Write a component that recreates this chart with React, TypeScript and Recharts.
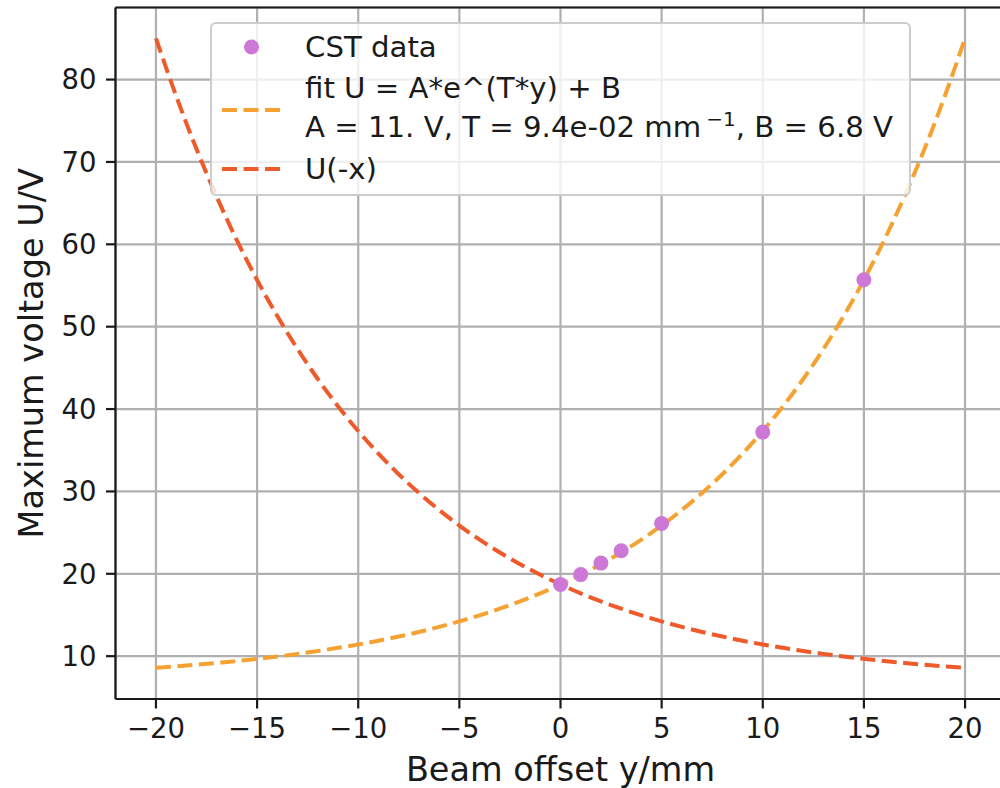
import React from "react";
import {
  ComposedChart,
  Line,
  Scatter,
  XAxis,
  YAxis,
  CartesianGrid,
  ReferenceLine,
  Legend,
  Label,
} from "recharts";

// ---- data ----
const offsets = [
  -20, -19, -18, -17, -16, -15, -14, -13, -12, -11, -10, -9, -8, -7, -6, -5, -4, -3, -2, -1,
  0, 1, 2, 3, 4, 5, 6, 7, 8, 9, 10, 11, 12, 13, 14, 15, 16, 17, 18, 19, 20,
];
const fitValues = [
  8.58, 8.76, 8.96, 9.18, 9.41, 9.68, 9.96, 10.28, 10.62, 11.01, 11.42, 11.88, 12.39, 12.94,
  13.55, 14.22, 14.96, 15.77, 16.65, 17.63, 18.7, 19.88, 21.17, 22.59, 24.15, 25.86, 27.75,
  29.82, 32.09, 34.59, 37.33, 40.34, 43.65, 47.29, 51.29, 55.67, 60.49, 65.79, 71.6, 78.0, 85.01,
];
const mirrorValues = [
  85.01, 78.0, 71.6, 65.79, 60.49, 55.67, 51.29, 47.29, 43.65, 40.34, 37.33, 34.59, 32.09,
  29.82, 27.75, 25.86, 24.15, 22.59, 21.17, 19.88, 18.7, 17.63, 16.65, 15.77, 14.96, 14.22,
  13.55, 12.94, 12.39, 11.88, 11.42, 11.01, 10.62, 10.28, 9.96, 9.68, 9.41, 9.18, 8.96, 8.76, 8.58,
];
const cstOffsets = [0, 1, 2, 3, 5, 10, 15];
const cstVoltages = [18.7, 19.9, 21.3, 22.8, 26.1, 37.2, 55.7];

const xTicks = [-20, -15, -10, -5, 0, 5, 10, 15, 20];
const yTicks = [10, 20, 30, 40, 50, 60, 70, 80];
const X_DOMAIN: [number, number] = [-22, 22];
const Y_DOMAIN: [number, number] = [4.8, 88.75];

const legendLabels = [
  "CST data",
  "fit U = A*e^(T*y) + B",
  "A = 11. V, T = 9.4e-02 mm",
  "\u22121",
  ", B = 6.8 V",
  "U(-x)",
];
const xLabel = "Beam offset y/mm";
const yLabel = "Maximum voltage U/V";

// ---- styles ----
const FONT = "DejaVu Sans";
const TEXT = "#1a1a1a";
const ORANGE = "#f5a233";
const RED = "#ef5a2a";
const ORCHID = "#cd77d6";
const GRID = "#b0b0b0";
const DASH = "15 6.5";
const LEG_FS = 29.2;

const curveRows = offsets.map((x, i) => ({ x, fit: fitValues[i], mirror: mirrorValues[i] }));
const cstRows = cstOffsets.map((x, i) => ({ x, u: cstVoltages[i] }));

const fmt = (v: number) => (v < 0 ? "\u2212" + Math.abs(v) : String(v));

const LegendBox = () => (
  <svg width={1010} height={210} style={{ display: "block", overflow: "visible" }}>
    <rect x={211} y={23} width={699} height={172} rx={5} ry={5} fill="rgba(255,255,255,0.8)" stroke="#cccccc" strokeWidth={2} />
    <circle cx={251.5} cy={47} r={7.5} fill={ORCHID} />
    <line x1={222} y1={110} x2={280} y2={110} stroke={ORANGE} strokeWidth={4} strokeDasharray={DASH} />
    <line x1={222} y1={169} x2={280} y2={169} stroke={RED} strokeWidth={4} strokeDasharray={DASH} />
    <g fontFamily={FONT} fontSize={LEG_FS} fill={TEXT}>
      <text x={305} y={57}>{legendLabels[0]}</text>
      <text x={305} y={98}>{legendLabels[1]}</text>
      <text x={305} y={137}>
        {legendLabels[2]}
        <tspan dx={5} dy={-11} fontSize={20}>{legendLabels[3]}</tspan>
        <tspan dy={11} fontSize={LEG_FS}>{legendLabels[4]}</tspan>
      </text>
      <text x={305} y={179}>{legendLabels[5]}</text>
    </g>
  </svg>
);

export default function App() {
  return (
    <div style={{ position: "absolute", left: 0, top: 0, width: 1000, height: 788, overflow: "hidden", background: "#fff" }}>
      <ComposedChart
        width={1010}
        height={788}
        data={curveRows}
        margin={{ top: 7.5, right: 4.5, left: 0, bottom: 0 }}
      >
        <CartesianGrid stroke={GRID} strokeWidth={2.2} />
        <XAxis
          dataKey="x"
          type="number"
          domain={X_DOMAIN}
          ticks={xTicks}
          interval={0}
          allowDataOverflow
          tickFormatter={fmt}
          height={89}
          tickSize={9.5}
          tickMargin={9.5}
          axisLine={{ stroke: TEXT, strokeWidth: 2.2 }}
          tickLine={{ stroke: TEXT, strokeWidth: 2.2 }}
          tick={{ fontSize: 27.5, fill: TEXT, fontFamily: FONT }}
        >
          <Label
            content={(p: any) => {
              const vb = p.viewBox || {};
              return (
                <text x={vb.x + vb.width / 2} y={781} textAnchor="middle" fontSize={33.5} fontFamily={FONT} fill={TEXT}>
                  {xLabel}
                </text>
              );
            }}
          />
        </XAxis>
        <YAxis
          type="number"
          domain={Y_DOMAIN}
          ticks={yTicks}
          interval={0}
          allowDataOverflow
          width={115.5}
          tickSize={9.5}
          tickMargin={9.5}
          axisLine={{ stroke: TEXT, strokeWidth: 2.2 }}
          tickLine={{ stroke: TEXT, strokeWidth: 2.2 }}
          tick={{ fontSize: 27.5, fill: TEXT, fontFamily: FONT }}
        >
          <Label
            content={(p: any) => {
              const vb = p.viewBox || {};
              const cx = 43;
              const cy = vb.y + vb.height / 2;
              return (
                <text
                  x={cx}
                  y={cy}
                  transform={`rotate(-90, ${cx}, ${cy})`}
                  textAnchor="middle"
                  fontSize={33.5}
                  fontFamily={FONT}
                  fill={TEXT}
                >
                  {yLabel}
                </text>
              );
            }}
          />
        </YAxis>
        <ReferenceLine y={Y_DOMAIN[1]} stroke={TEXT} strokeWidth={2.2} />
        <Line
          type="monotone"
          dataKey="fit"
          stroke={ORANGE}
          strokeWidth={4}
          strokeDasharray={DASH}
          dot={false}
          activeDot={false}
          isAnimationActive={false}
        />
        <Line
          type="monotone"
          dataKey="mirror"
          stroke={RED}
          strokeWidth={4}
          strokeDasharray={DASH}
          dot={false}
          activeDot={false}
          isAnimationActive={false}
        />
        <Scatter
          data={cstRows}
          dataKey="u"
          fill={ORCHID}
          isAnimationActive={false}
          shape={(p: any) => <circle cx={p.cx} cy={p.cy} r={7.5} fill={ORCHID} />}
        />
        <Legend
          layout="vertical"
          verticalAlign="middle"
          align="center"
          wrapperStyle={{ left: 0, top: 0, width: 1010, height: 210 }}
          content={() => <LegendBox />}
        />
      </ComposedChart>
    </div>
  );
}
